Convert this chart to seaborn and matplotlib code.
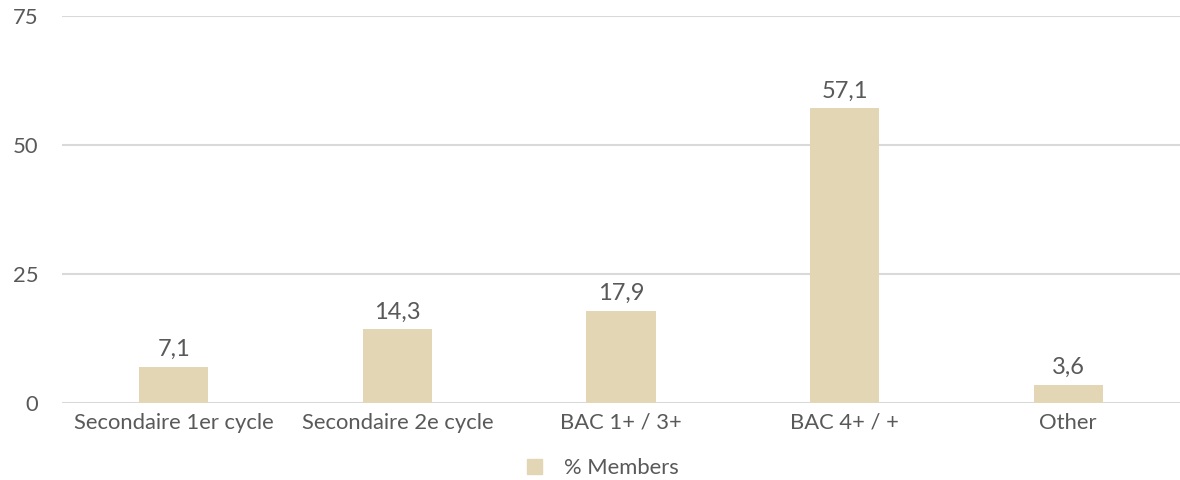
import numpy as np
import pandas as pd
import matplotlib.pyplot as plt
import seaborn as sns
from matplotlib.patches import Patch

# donnees
categories = ['Secondaire 1er cycle', 'Secondaire 2e cycle', 'BAC 1+ / 3+', 'BAC 4+ / +', 'Other']
members = [7.1, 14.3, 17.9, 57.1, 3.6]
yticks = [0, 25, 50, 75]

df = pd.DataFrame({'Niveau': categories, 'Pct': members, 'Serie': '% Members'})

sns.set_theme(style='white')
plt.rcParams['font.family'] = ['Lato', 'DejaVu Sans']
gris = '#595959'
beige = '#E2D6B5'

fig = plt.figure(figsize=(11.8, 4.8), dpi=100)
ax = fig.add_axes([0.0525, 0.160, 0.9475, 0.807])

sns.barplot(data=df, x='Niveau', y='Pct', hue='Serie', palette=[beige],
            saturation=1, width=0.31, linewidth=0, ax=ax, legend=False)

ax.set_ylim(0, 75)
ax.set_yticks(yticks)
ax.set_xlim(-0.5, len(categories) - 0.5)
ax.grid(axis='y', color='#D9D9D9', linewidth=1.5)
ax.set_axisbelow(True)
sns.despine(ax=ax, left=True, bottom=True)
ax.set_xlabel('')
ax.set_ylabel('')
ax.tick_params(axis='both', length=0, labelsize=15.8, colors=gris)
ax.tick_params(axis='y', pad=17)
ax.tick_params(axis='x', pad=7)

# etiquettes de valeur (virgule decimale)
for c in ax.containers:
    ax.bar_label(c, labels=[f'{v:.1f}'.replace('.', ',') for v in c.datavalues],
                 padding=5, fontsize=17, color=gris)

# legende en bas
fig.legend(handles=[Patch(color=beige, label='% Members')], loc='lower center',
           bbox_to_anchor=(0.511, -0.037), frameon=False, fontsize=15.8,
           labelcolor=gris, handlelength=0.7, handleheight=0.7, handletextpad=1.0)

fig.savefig('out.png', dpi=100)
